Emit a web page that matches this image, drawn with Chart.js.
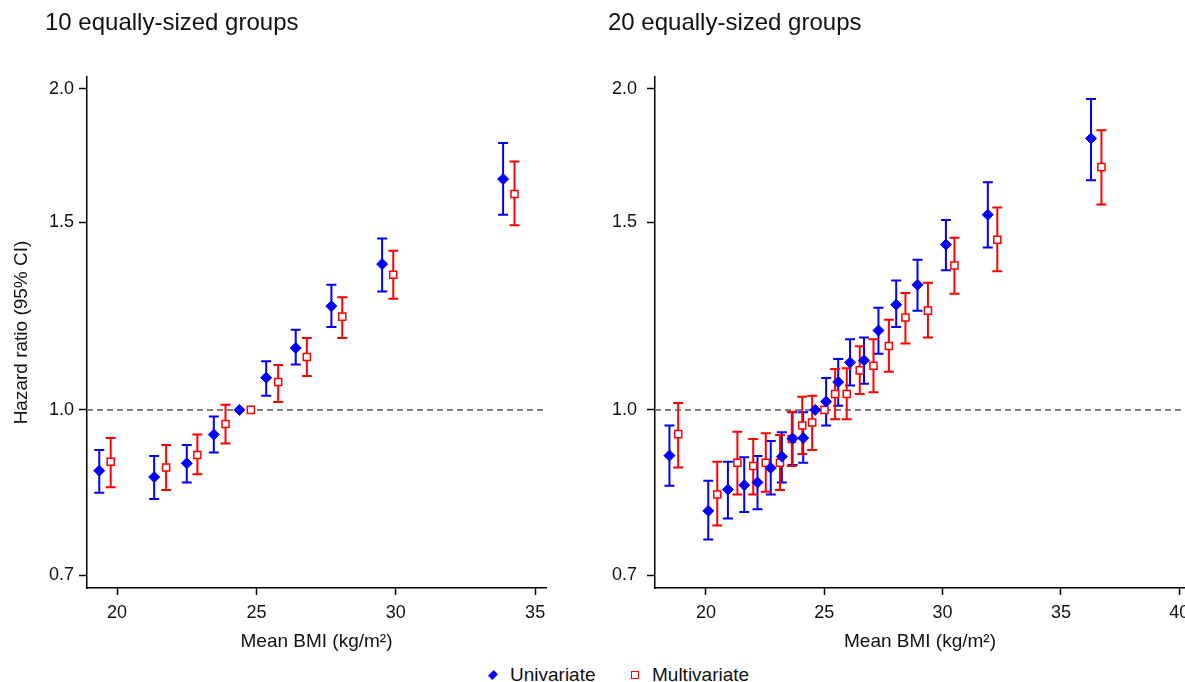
<!DOCTYPE html>
<html lang="en">
<head>
  <meta charset="UTF-8">
  <title>Hazard ratio by mean BMI</title>
  <script src="https://cdn.jsdelivr.net/npm/chart.js"></script>
  <style>
    body {
      margin: 0;
      background: #fff;
      font-family: "Liberation Sans", Arial, sans-serif;
      color: #111;
    }

    .figure {
      position: relative;
      width: 1185px;
      height: 682px;
      overflow: hidden;
    }

    .figure canvas {
      position: absolute;
      top: 0;
    }

    .panel-title {
      position: absolute;
      top: 10px;
      font-size: 24px;
      line-height: 24px;
      white-space: nowrap;
    }

    .legend {
      position: absolute;
      top: 664px;
      left: 0;
      width: 1185px;
      font-size: 19px;
      line-height: 22px;
    }

    .legend span {
      position: absolute;
      top: 0;
    }

    .mk-diamond {
      width: 8px;
      height: 8px;
      background: #0000ff;
      transform: rotate(45deg) scaleX(0.75);
      margin-top: 7px;
    }

    .mk-square {
      width: 6px;
      height: 6px;
      border: 1.5px solid #ff0000;
      margin-top: 7px;
    }
  </style>
</head>

<body>
  <div class="figure">
    <canvas id="chart10" width="560" height="660" style="left:0"></canvas>
    <!-- wider than the page on purpose: the axis and the "40" label run off the edge -->
    <canvas id="chart20" width="650" height="660" style="left:560px"></canvas>
    <div class="panel-title" style="left:45px">10 equally-sized groups</div>
    <div class="panel-title" style="left:608px">20 equally-sized groups</div>
    <div class="legend">
      <span class="mk-diamond" style="left:489px"></span>
      <span style="left:510px">Univariate</span>
      <span class="mk-square" style="left:631px"></span>
      <span style="left:652px">Multivariate</span>
    </div>
  </div>

  <script>
    // tick labels
    const hrTicks = [0.7, 1.0, 1.5, 2.0];
    const bmiTicks10 = [20, 25, 30, 35];
    const bmiTicks20 = [20, 25, 30, 35, 40];

    // 10 groups - univariate
    const bmi10Uni = [19.36, 21.33, 22.50, 23.47, 24.39, 25.35, 26.41, 27.69, 29.51, 33.85];
    const hr10Uni = [0.877, 0.865, 0.891, 0.948, 1.0, 1.072, 1.143, 1.251, 1.370, 1.646];
    const lo10Uni = [0.836, 0.825, 0.855, 0.912, null, 1.031, 1.103, 1.196, 1.291, 1.524];
    const hi10Uni = [0.917, 0.905, 0.927, 0.986, null, 1.111, 1.189, 1.310, 1.448, 1.779];

    // 10 groups - multivariate
    const bmi10Multi = [19.77, 21.76, 22.88, 23.89, 24.80, 25.78, 26.81, 28.08, 29.91, 34.26];
    const hr10Multi = [0.894, 0.883, 0.907, 0.970, 1.0, 1.062, 1.121, 1.223, 1.339, 1.594];
    const lo10Multi = [0.846, 0.841, 0.870, 0.930, null, 1.017, 1.076, 1.168, 1.271, 1.490];
    const hi10Multi = [0.941, 0.927, 0.948, 1.011, null, 1.102, 1.168, 1.275, 1.410, 1.710];

    // 20 groups - univariate
    const bmi20Uni = [18.46, 20.10, 20.93, 21.62, 22.18, 22.74, 23.21, 23.66, 24.11, 24.62,
      25.08, 25.59, 26.09, 26.68, 27.29, 28.04, 28.94, 30.14, 31.91, 36.27];
    const hr20Uni = [0.906, 0.804, 0.842, 0.850, 0.855, 0.882, 0.904, 0.940, 0.941, 1.0,
      1.018, 1.062, 1.108, 1.113, 1.187, 1.255, 1.310, 1.429, 1.524, 1.797];
    const lo20Uni = [0.849, 0.756, 0.791, 0.802, 0.807, 0.833, 0.855, 0.888, 0.892, null,
      0.967, 1.009, 1.054, 1.058, 1.129, 1.196, 1.239, 1.352, 1.420, 1.642];
    const hi20Uni = [0.967, 0.858, 0.894, 0.903, 0.905, 0.935, 0.953, 0.995, 0.995, null,
      1.071, 1.116, 1.165, 1.169, 1.247, 1.322, 1.383, 1.507, 1.635, 1.957];

    // 20 groups - multivariate
    const bmi20Multi = [18.83, 20.48, 21.33, 22.00, 22.53, 23.13, 23.63, 24.07, 24.49, 25.01,
      25.46, 25.95, 26.50, 27.08, 27.73, 28.43, 29.38, 30.50, 32.31, 36.71];
    const hr20Multi = [0.949, 0.833, 0.892, 0.886, 0.892, 0.892, 0.939, 0.967, 0.973, 1.0,
      1.035, 1.035, 1.089, 1.100, 1.148, 1.221, 1.239, 1.366, 1.444, 1.689];
    const lo20Multi = [0.883, 0.779, 0.833, 0.833, 0.838, 0.841, 0.886, 0.909, 0.917, null,
      0.980, 0.980, 1.035, 1.039, 1.086, 1.154, 1.169, 1.285, 1.349, 1.558];
    const hi20Multi = [1.015, 0.894, 0.954, 0.939, 0.951, 0.947, 0.996, 1.029, 1.031, null,
      1.092, 1.094, 1.147, 1.165, 1.215, 1.287, 1.316, 1.450, 1.548, 1.829];

    const FONT = '"Liberation Sans", Arial, sans-serif';
    const BLUE = '#0000ff';
    const RED = '#ff0000';

    // draws the 95% CI caps under the markers
    const errorBars = {
      id: 'errorBars',
      beforeDatasetsDraw(chart) {
        const { ctx, scales: { x, y } } = chart;
        chart.data.datasets.forEach(ds => {
          if (!ds.errLo) return;
          ctx.save();
          ctx.strokeStyle = ds.borderColor;
          ctx.lineWidth = 2;
          ds.data.forEach((p, i) => {
            if (ds.errLo[i] == null) return;
            const px = x.getPixelForValue(p.x);
            const top = y.getPixelForValue(ds.errHi[i]);
            const bot = y.getPixelForValue(ds.errLo[i]);
            ctx.beginPath();
            ctx.moveTo(px, top); ctx.lineTo(px, bot);
            ctx.moveTo(px - 5, top); ctx.lineTo(px + 5, top);
            ctx.moveTo(px - 5, bot); ctx.lineTo(px + 5, bot);
            ctx.stroke();
          });
          ctx.restore();
        });
      }
    };

    function points(xs, ys) {
      return xs.map((v, i) => ({ x: v, y: ys[i] }));
    }

    function makeChart(id, opts) {
      const uni = {
        type: 'scatter',
        data: points(opts.bmiUni, opts.hrUni),
        errLo: opts.loUni, errHi: opts.hiUni,
        borderColor: BLUE, backgroundColor: BLUE,
        pointStyle: 'rectRot', pointRadius: 5.5, pointBorderWidth: 1
      };
      const multi = {
        type: 'scatter',
        data: points(opts.bmiMulti, opts.hrMulti),
        errLo: opts.loMulti, errHi: opts.hiMulti,
        borderColor: RED, backgroundColor: '#fff',
        pointStyle: 'rect', pointRadius: 5, pointBorderWidth: 1.5
      };
      const refLine = {
        type: 'line',
        data: [{ x: opts.xMin, y: 1 }, { x: opts.xMax, y: 1 }],
        borderColor: '#555', borderWidth: 1.5, borderDash: [6, 4],
        pointRadius: 0
      };

      return new Chart(document.getElementById(id), {
        type: 'scatter',
        data: { datasets: [uni, multi, refLine] },
        options: {
          responsive: false,
          animation: false,
          devicePixelRatio: 1,
          layout: { autoPadding: false, padding: { top: 77, right: opts.padRight, bottom: 0, left: 0 } },
          plugins: { legend: { display: false }, tooltip: { enabled: false } },
          scales: {
            x: {
              type: 'linear',
              min: opts.xMin, max: opts.xMax,
              afterFit: s => { s.height = 72; },
              afterBuildTicks: s => { s.ticks = opts.xTicks.map(v => ({ value: v })); },
              grid: { drawOnChartArea: false, color: '#000', tickLength: 7, tickWidth: 1.5 },
              border: { color: '#000', width: 1.5 },
              ticks: { color: '#111', padding: 7, font: { family: FONT, size: 18 }, callback: v => String(v) },
              title: {
                display: true, text: 'Mean BMI (kg/m²)', color: '#111',
                font: { family: FONT, size: 19 }, padding: { top: 0, bottom: 7 }
              }
            },
            y: {
              type: 'logarithmic',
              min: 0.6807, max: 2.052,
              afterFit: s => { s.width = opts.yWidth; },
              afterBuildTicks: s => { s.ticks = hrTicks.map(v => ({ value: v })); },
              grid: { drawOnChartArea: false, color: '#000', tickLength: 8, tickWidth: 1.5 },
              border: { color: '#000', width: 1.5 },
              ticks: { color: '#111', padding: opts.yPad, font: { family: FONT, size: 18 }, callback: v => Number(v).toFixed(1) },
              title: {
                display: opts.yTitle, text: 'Hazard ratio (95% CI)', color: '#111',
                font: { family: FONT, size: 19 }, padding: { top: 10, bottom: 0 }
              }
            }
          }
        },
        plugins: [errorBars]
      });
    }

    makeChart('chart10', {
      bmiUni: bmi10Uni, hrUni: hr10Uni, loUni: lo10Uni, hiUni: hi10Uni,
      bmiMulti: bmi10Multi, hrMulti: hr10Multi, loMulti: lo10Multi, hiMulti: hi10Multi,
      xMin: 18.92, xMax: 35.39, xTicks: bmiTicks10,
      yWidth: 87, yPad: 5, yTitle: true, padRight: 14
    });

    makeChart('chart20', {
      bmiUni: bmi20Uni, hrUni: hr20Uni, loUni: lo20Uni, hiUni: hi20Uni,
      bmiMulti: bmi20Multi, hrMulti: hr20Multi, loMulti: lo20Multi, hiMulti: hi20Multi,
      xMin: 17.85, xMax: 40.24, xTicks: bmiTicks20,
      yWidth: 95, yPad: 10, yTitle: false, padRight: 25
    });
  </script>
</body>
</html>
